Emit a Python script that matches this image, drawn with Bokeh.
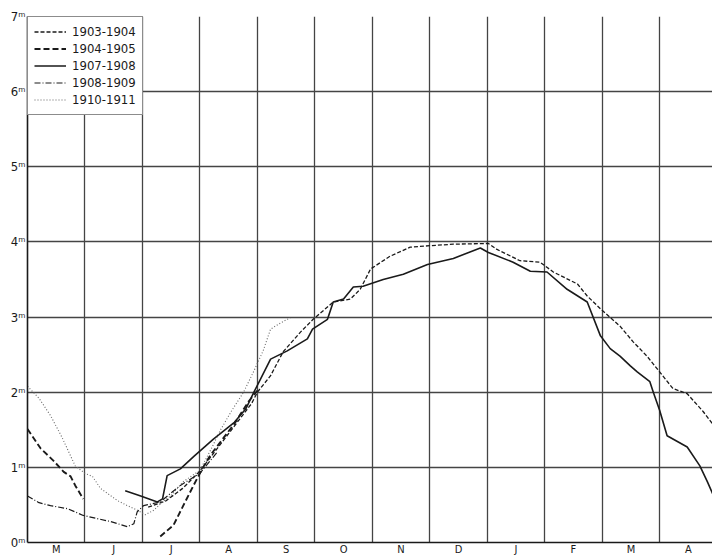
from bokeh.plotting import figure
from bokeh.models import FixedTicker, Legend, LegendItem, Range1d
from bokeh.embed import file_html
from bokeh.resources import INLINE

nan = float("nan")

# Months from 1 May (0) to end of April (12)
months = ["M", "J", "J", "A", "S", "O", "N", "D", "J", "F", "M", "A"]
metres = [0, 1, 2, 3, 4, 5, 6, 7]

# 1903-1904
x_0304 = [2.1, 2.4, 2.7, 3.0, 3.3, 3.6, 3.9, 4.0, 4.23, 4.45, 4.75, 4.97, 5.32, 5.62, 5.79,
          5.97, 6.31, 6.66, 7.0, 7.41, 8.02, 8.17, 8.57, 8.92, 9.15, 9.57, 9.74, 9.97,
          10.31, 10.54, 10.78, 11.0, 11.23, 11.48, 11.76, 11.95]
y_0304 = [0.47, 0.55, 0.72, 0.95, 1.25, 1.55, 1.85, 2.0, 2.22, 2.54, 2.8, 2.97, 3.2, 3.24, 3.37,
          3.64, 3.81, 3.93, 3.95, 3.97, 3.98, 3.9, 3.75, 3.73, 3.6, 3.44, 3.28, 3.11,
          2.88, 2.67, 2.48, 2.27, 2.05, 1.98, 1.74, 1.55]

# 1904-1905 (gap in June/July)
x_0405 = [0.0, 0.23, 0.45, 0.63, 0.75, 0.83, 0.97, nan,
          2.31, 2.54, 2.71, 2.89, 3.04, 3.18, 3.36, 3.6, 3.85, 4.0]
y_0405 = [1.51, 1.25, 1.09, 0.94, 0.88, 0.76, 0.58, nan,
          0.08, 0.23, 0.49, 0.76, 0.98, 1.16, 1.34, 1.58, 1.88, 2.02]

# 1907-1908
x_0708 = [1.7, 1.97, 2.26, 2.35, 2.43, 2.66, 2.9, 3.24, 3.6, 3.8, 3.94, 4.23, 4.52, 4.87,
          4.96, 5.22, 5.32, 5.5, 5.67, 5.84, 6.19, 6.54, 6.96, 7.41, 7.88, 8.02, 8.45,
          8.75, 9.04, 9.39, 9.74, 9.97, 10.14, 10.31, 10.49, 10.61, 10.83, 10.89, 11.0,
          11.13, 11.48, 11.7, 11.83, 11.95]
y_0708 = [0.69, 0.62, 0.54, 0.58, 0.89, 0.98, 1.15, 1.38, 1.6, 1.78, 2.0, 2.44, 2.55, 2.71,
          2.84, 2.97, 3.2, 3.24, 3.4, 3.41, 3.5, 3.57, 3.7, 3.78, 3.92, 3.86, 3.73,
          3.61, 3.6, 3.37, 3.2, 2.75, 2.58, 2.48, 2.35, 2.27, 2.14, 2.0, 1.76,
          1.42, 1.27, 1.02, 0.81, 0.6]

# 1908-1909
x_0809 = [0.0, 0.2, 0.4, 0.7, 0.97, 1.2, 1.44, 1.74, 1.85, 1.91, 2.02, 2.31, 2.66, 3.0, 3.3]
y_0809 = [0.62, 0.53, 0.49, 0.45, 0.36, 0.32, 0.28, 0.21, 0.25, 0.41, 0.49, 0.54, 0.76, 0.92, 1.2]

# 1910-1911
x_1011 = [0.0, 0.2, 0.4, 0.6, 0.83, 1.0, 1.13, 1.27, 1.56, 1.74, 1.91, 2.05, 2.2, 2.35, 2.49,
          2.71, 3.0, 3.2, 3.36, 3.55, 3.76, 3.95, 4.1, 4.23, 4.4, 4.57]
y_1011 = [2.08, 1.92, 1.69, 1.4, 1.02, 0.92, 0.88, 0.72, 0.56, 0.49, 0.43, 0.37, 0.43, 0.54, 0.62,
          0.81, 0.96, 1.25, 1.5, 1.75, 2.0, 2.3, 2.55, 2.84, 2.92, 2.99]

FONT = "DejaVu Sans Condensed"
INK = "#1a1a1a"

p = figure(width=712, height=558, output_backend="svg", toolbar_location=None,
           x_range=Range1d(0, 11.92), y_range=Range1d(0, 7),
           min_border_left=27, min_border_right=0, min_border_top=16, min_border_bottom=13)
p.outline_line_color = None
p.background_fill_color = "white"

# axes
p.xaxis.ticker = FixedTicker(ticks=[i + 0.5 for i in range(12)])
p.xaxis.major_label_overrides = {i + 0.5: m for i, m in enumerate(months)}
p.yaxis.ticker = FixedTicker(ticks=metres)
p.yaxis.major_label_overrides = {m: f"{m}ᵐ" for m in metres}
for ax in (p.xaxis, p.yaxis):
    ax.major_tick_out = 0
    ax.major_tick_in = 0
    ax.minor_tick_out = 0
    ax.minor_tick_in = 0
    ax.axis_line_color = INK
    ax.axis_line_width = 1.6
    ax.major_label_text_font = FONT
    ax.major_label_text_color = INK
p.xaxis.major_label_text_font_size = "11px"
p.yaxis.major_label_text_font_size = "13px"
p.xaxis.major_label_standoff = 0
p.yaxis.major_label_standoff = 2

p.xgrid.ticker = FixedTicker(ticks=list(range(1, 12)))
p.ygrid.ticker = FixedTicker(ticks=metres[1:])
for g in (p.xgrid, p.ygrid):
    g.grid_line_color = "#444444"
    g.grid_line_width = 1.3

r1 = p.line(x_0304, y_0304, line_color=INK, line_width=1.3, line_dash="4 2")
r2 = p.line(x_0405, y_0405, line_color=INK, line_width=1.9, line_dash="6 3")
r3 = p.line(x_0708, y_0708, line_color=INK, line_width=1.6)
r4 = p.line(x_0809, y_0809, line_color=INK, line_width=1.2, line_dash="6 2 1 2")
r5 = p.line(x_1011, y_1011, line_color="#666666", line_width=1.1, line_dash="1 2")

legend = Legend(items=[
    LegendItem(label="1903-1904", renderers=[r1]),
    LegendItem(label="1904-1905", renderers=[r2]),
    LegendItem(label="1907-1908", renderers=[r3]),
    LegendItem(label="1908-1909", renderers=[r4]),
    LegendItem(label="1910-1911", renderers=[r5]),
], location="top_left")
legend.margin = 0
legend.padding = 6
legend.spacing = 0
legend.label_height = 17
legend.glyph_height = 17
legend.glyph_width = 32
legend.label_standoff = 6
legend.label_text_font = FONT
legend.label_text_font_size = "13px"
legend.label_text_color = INK
legend.border_line_color = INK
legend.border_line_width = 1.3
legend.background_fill_color = "white"
legend.background_fill_alpha = 1.0
p.add_layout(legend)

open("out.html", "w").write(file_html(p, INLINE))
